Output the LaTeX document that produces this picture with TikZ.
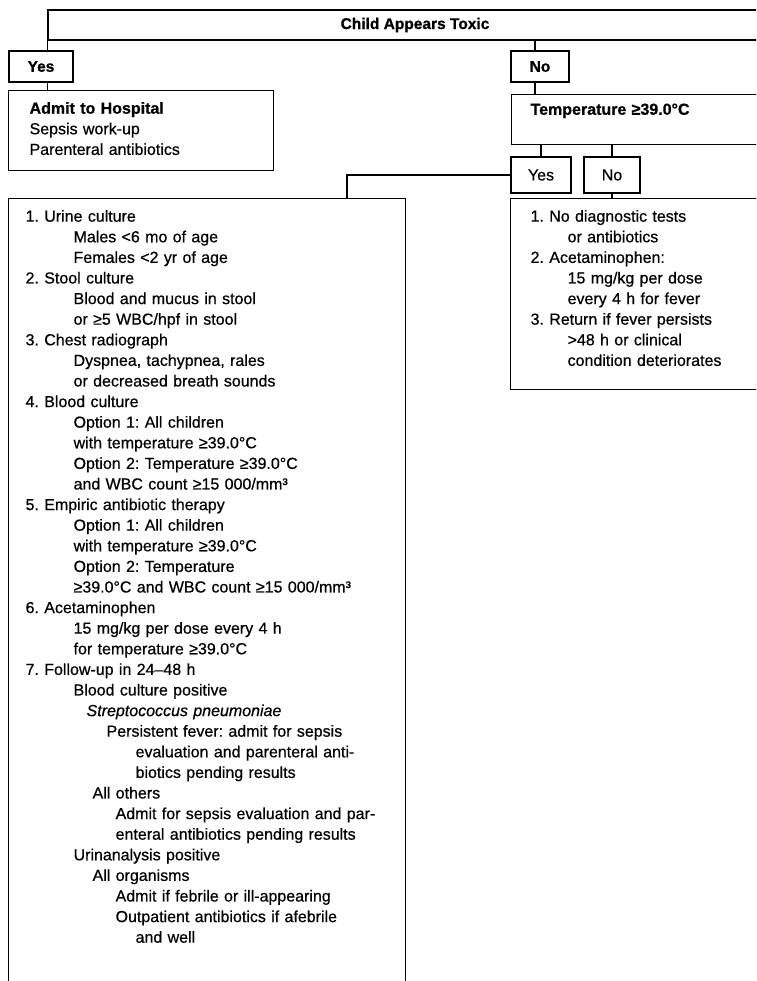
\documentclass[tikz,border=0pt]{standalone}
\usepackage{fontspec}
\setmainfont{Liberation Sans}[UprightFeatures={FakeBold=0.6},ItalicFeatures={FakeBold=0.6},BoldFeatures={FakeBold=0.8}]
\usetikzlibrary{positioning,calc}
\newcommand{\indt}[1]{\hspace*{#1pt}}
\frenchspacing

\begin{document}
\begin{tikzpicture}[x=1pt,y=-1pt,
    every node/.style={font=\fontsize{16}{20.6}\selectfont},
    frame/.style={draw,line width=1.2pt,rectangle,inner xsep=#1,inner ysep=11.5pt,anchor=north west,align=left},
    frame/.default=20pt,
    tag/.style={draw,line width=1.2pt,rectangle,inner sep=0pt,minimum height=#1},
    head/.style={font=\fontsize{15.5}{18}\selectfont\bfseries},
    link/.style={line width=1.2pt}]
    \useasboundingbox (0,0) rectangle (756,981);
    \clip (0,0) rectangle (756,981);

    % Decision at the top
    \node[tag=30pt, minimum width=734pt, head] (toxic) at (415,25) {Child Appears Toxic};
    \node[tag=31pt, minimum width=64pt, head] (ayes) at (41,66.5) {Yes};
    \node[tag=31pt, minimum width=58pt, head] (ano) at (540,66.5) {No};

    % Toxic branch
    \node[frame=21pt, text width=223pt] (admit) at (8,90)
        {\textbf{Admit to Hospital}\\Sepsis work-up\\Parenteral antibiotics\rule[-4pt]{0pt}{4pt}};

    % Non-toxic branch
    \node[frame=19pt, text width=233pt, inner ysep=9pt] (temp) at (511,94)
        {\textbf{Temperature ≥39.0°C}\rule[-21pt]{0pt}{21pt}};
    \node[tag=36pt, minimum width=60pt] (tyes) at (541,175) {Yes};
    \node[tag=36pt, minimum width=56pt] (tno) at (612,175) {No};

    \node[frame=17pt, text width=363pt] (workup) at (8,198) {%
        1. Urine culture\\
        \indt{48}Males <6 mo of age\\
        \indt{48}Females <2 yr of age\\
        2. Stool culture\\
        \indt{48}Blood and mucus in stool\\
        \indt{48}or ≥5 WBC/hpf in stool\\
        3. Chest radiograph\\
        \indt{48}Dyspnea, tachypnea, rales\\
        \indt{48}or decreased breath sounds\\
        4. Blood culture\\
        \indt{48}Option 1: All children\\
        \indt{48}with temperature ≥39.0°C\\
        \indt{48}Option 2: Temperature ≥39.0°C\\
        \indt{48}and WBC count ≥15 000/mm³\\
        5. Empiric antibiotic therapy\\
        \indt{48}Option 1: All children\\
        \indt{48}with temperature ≥39.0°C\\
        \indt{48}Option 2: Temperature\\
        \indt{48}≥39.0°C and WBC count ≥15 000/mm³\\
        6. Acetaminophen\\
        \indt{48}15 mg/kg per dose every 4 h\\
        \indt{48}for temperature ≥39.0°C\\
        7. Follow-up in 24–48 h\\
        \indt{48}Blood culture positive\\
        \indt{61}\textit{Streptococcus pneumoniae}\\
        \indt{81}Persistent fever: admit for sepsis\\
        \indt{110}evaluation and parenteral anti-\\
        \indt{110}biotics pending results\\
        \indt{67}All others\\
        \indt{90}Admit for sepsis evaluation and par-\\
        \indt{90}enteral antibiotics pending results\\
        \indt{48}Urinanalysis positive\\
        \indt{67}All organisms\\
        \indt{90}Admit if febrile or ill-appearing\\
        \indt{90}Outpatient antibiotics if afebrile\\
        \indt{110}and well\rule[-28pt]{0pt}{28pt}};

    \node[frame=20pt, text width=232pt] (advice) at (510,198) {%
        1. No diagnostic tests\\
        \indt{37}or antibiotics\\
        2. Acetaminophen:\\
        \indt{37}15 mg/kg per dose\\
        \indt{37}every 4 h for fever\\
        3. Return if fever persists\\
        \indt{37}>48 h or clinical\\
        \indt{37}condition deteriorates\rule[-12pt]{0pt}{12pt}};

    \coordinate (split) at ([xshift=339pt]workup.north west);

    % Connectors
    \draw[link] (toxic.south west) -- (toxic.south west |- ayes.north);
    \draw[link] (ayes.south -| toxic.south west) -- (admit.north -| toxic.south west);
    \draw[link] ([xshift=-5pt]ano.north |- toxic.south) -- ([xshift=-5pt]ano.north);
    \draw[link] ([xshift=-5pt]ano.south) -- ([xshift=-5pt]ano.south |- temp.north);
    \draw[link] (tyes.north |- temp.south) -- (tyes.north);
    \draw[link] (tno.north |- temp.south) -- (tno.north);
    \draw[link] (tyes.west) -| (split);
    \draw[link] (tno.south) -- (tno.south |- advice.north);
\end{tikzpicture}
\end{document}
